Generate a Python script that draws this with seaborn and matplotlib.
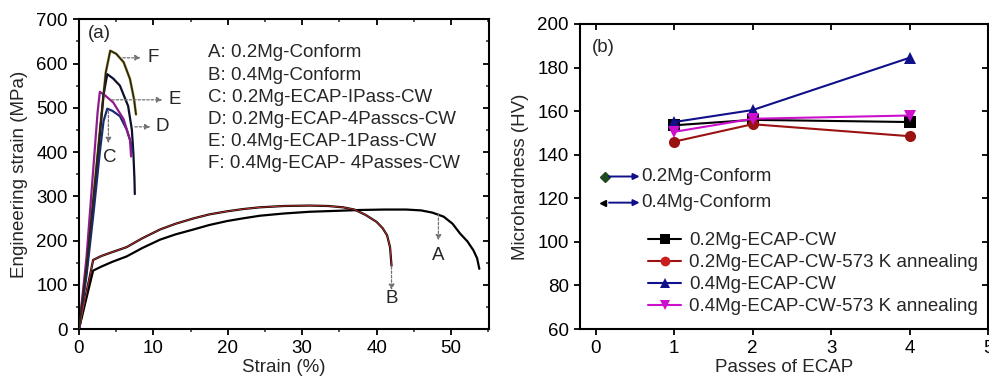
import numpy as np
import pandas as pd
import matplotlib
matplotlib.use("Agg")
import matplotlib.pyplot as plt
import seaborn as sns
from matplotlib.ticker import MultipleLocator

# ---------------- data: panel (a) tensile curves ----------------
strain_A = [0, 1.0, 1.9, 3, 4.5, 6.4, 8.5, 10.9, 13, 15.4, 17.5, 19.9, 22, 24.3, 27.5, 31,
            34.5, 37.8, 41, 44, 46, 47.5, 49, 50.2, 51.2, 52.2, 53, 53.5, 53.8]
stress_A = [0, 70, 132, 141, 152, 164, 183, 202, 214, 225, 235, 244, 250, 256, 261, 265,
            267, 269, 270, 270, 268, 263, 254, 238, 216, 198, 178, 160, 136]
strain_B = [0, 1.0, 1.9, 3, 4.5, 6.4, 8.5, 10.9, 13, 15.4, 17.5, 19.9, 22, 24.3, 27.5, 31,
            33.5, 35.5, 37, 38.5, 40, 40.8, 41.4, 41.8, 42.0]
stress_B = [0, 82, 156, 165, 174, 185, 205, 225, 238, 250, 259, 266, 271, 275, 278, 279,
            278, 275, 270, 258, 242, 228, 212, 185, 143]
strain_C = [0, 1, 2, 2.8, 3.3, 3.8, 4.5, 5.5, 6.4, 6.9, 7.2]
stress_C = [0, 120, 270, 400, 470, 498, 493, 481, 451, 425, 400]
strain_D = [0, 1, 2, 2.8, 3.3, 3.8, 4.6, 5.5, 6.6, 7.1, 7.3, 7.45, 7.5]
stress_D = [0, 130, 290, 440, 530, 576, 566, 550, 504, 451, 400, 340, 305]
strain_E = [0, 1, 2, 2.5, 2.8, 3.5, 4.6, 6.0, 6.85, 7.0]
stress_E = [0, 160, 380, 490, 536, 528, 512, 474, 428, 390]
strain_F = [0, 1, 2, 3, 3.6, 4.2, 5.0, 6.0, 6.85, 7.4, 7.66]
stress_F = [0, 140, 310, 480, 580, 629, 622, 603, 565, 519, 485]

legend_a = ["A: 0.2Mg-Conform", "B: 0.4Mg-Conform", "C: 0.2Mg-ECAP-IPass-CW",
            "D: 0.2Mg-ECAP-4Passcs-CW", "E: 0.4Mg-ECAP-1Pass-CW", "F: 0.4Mg-ECAP- 4Passes-CW"]

# ---------------- data: panel (b) microhardness ----------------
passes = [1, 2, 4]
hv_02_cw = [153.5, 156, 155]
hv_02_ann = [146, 154, 148.5]
hv_04_cw = [155, 160.5, 184.5]
hv_04_ann = [150.5, 156.5, 158]
series_b = ["0.2Mg-ECAP-CW", "0.2Mg-ECAP-CW-573 K annealing",
            "0.4Mg-ECAP-CW", "0.4Mg-ECAP-CW-573 K annealing"]
conform_labels = ["0.2Mg-Conform", "0.4Mg-Conform"]
conform_hv = [130, 118]

# ---------------- style ----------------
sns.set_style("ticks")
plt.rcParams['font.family'] = ['Liberation Sans', 'DejaVu Sans']
FS = 13.5
plt.rcParams['font.size'] = FS

fig = plt.figure(figsize=(9.89, 3.82), dpi=100)
W, H = 989, 382
def rect(l, t, r, b):
    return [l / W, (H - b) / H, (r - l) / W, (b - t) / H]

ax1 = fig.add_axes(rect(79, 19.3, 489, 329))
ax2 = fig.add_axes(rect(580, 24, 988, 329))

# ---------------- panel (a) ----------------
def draw(ax, x, y, color, lw=1.6, z=2):
    sns.lineplot(x=x, y=y, ax=ax, color=color, lw=lw, sort=False, estimator=None, zorder=z)

draw(ax1, strain_A, stress_A, "black")
draw(ax1, strain_B, stress_B, "black")
draw(ax1, strain_B, stress_B, "#c0302a", lw=0.7, z=3)
draw(ax1, strain_F, stress_F, "#c8b868", lw=2.0)
draw(ax1, strain_F, stress_F, "#2a2612", lw=1.3, z=3)
draw(ax1, strain_D, stress_D, "#0c1028")
draw(ax1, strain_C, stress_C, "#1a2a70")
draw(ax1, strain_E, stress_E, "#8e1c8e")

ax1.set_xlim(0, 55.1)
ax1.set_ylim(0, 700)
ax1.xaxis.set_major_locator(MultipleLocator(10))
ax1.xaxis.set_minor_locator(MultipleLocator(5))
ax1.yaxis.set_major_locator(MultipleLocator(100))
ax1.yaxis.set_minor_locator(MultipleLocator(50))
ax1.set_xlabel("Strain (%)", fontsize=FS, labelpad=1)
ax1.set_ylabel("Engineering strain (MPa)", fontsize=FS, labelpad=6)
ax1.text(1.2, 667, "(a)", fontsize=FS, va="center", ha="left")

for i, t in enumerate(legend_a):
    ax1.text(17.3, 624 - i * 50.2, t, fontsize=FS, va="center", ha="left")

ap = dict(arrowstyle="-|>", linestyle=(0, (2, 1.5)), color="0.45", lw=0.9,
          mutation_scale=8, shrinkA=0, shrinkB=0)
def arrow(ax, x0, y0, x1, y1):
    ax.annotate("", xy=(x1, y1), xytext=(x0, y0), arrowprops=ap)

arrow(ax1, 48.3, 261, 48.3, 200)
ax1.text(48.3, 167, "A", fontsize=FS, ha="center", va="center")
arrow(ax1, 42.0, 141, 42.0, 88)
ax1.text(42.0, 68, "B", fontsize=FS, ha="center", va="center")
arrow(ax1, 3.95, 493, 3.95, 420)
ax1.text(4.1, 387, "C", fontsize=FS, ha="center", va="center")
arrow(ax1, 7.5, 457, 9.6, 457)
ax1.text(10.3, 457, "D", fontsize=FS, ha="left", va="center")
arrow(ax1, 4.4, 518, 11.2, 518)
ax1.text(12.0, 518, "E", fontsize=FS, ha="left", va="center")
arrow(ax1, 5.9, 613, 8.3, 613)
ax1.text(9.2, 613, "F", fontsize=FS, ha="left", va="center")

# ---------------- panel (b) ----------------
df = pd.DataFrame({
    "passes": passes * 4,
    "hv": hv_02_cw + hv_02_ann + hv_04_cw + hv_04_ann,
    "series": sum([[s] * len(passes) for s in series_b], []),
})
pal = {series_b[0]: "black", series_b[1]: "#9b1212",
       series_b[2]: "#10108a", series_b[3]: "#cc10cc"}
mk = {series_b[0]: "s", series_b[1]: "o", series_b[2]: "^", series_b[3]: "v"}
sns.lineplot(data=df, x="passes", y="hv", hue="series", style="series",
             palette=pal, markers=mk, dashes=False, lw=1.5, markersize=8,
             markeredgewidth=0, ax=ax2)
for ln in ax2.get_lines():
    if ln.get_label() == series_b[1]:
        ln.set_markerfacecolor("#c81e1e")

ax2.set_xlim(-0.2, 5.0)
ax2.set_ylim(60, 200)
ax2.xaxis.set_major_locator(MultipleLocator(1))
ax2.yaxis.set_major_locator(MultipleLocator(20))
ax2.set_xlabel("Passes of ECAP", fontsize=FS, labelpad=1)
ax2.set_ylabel("Microhardness (HV)", fontsize=FS, labelpad=6)
ax2.text(-0.05, 189.4, "(b)", fontsize=FS, va="center", ha="left")

leg = ax2.legend(loc="upper left", bbox_to_anchor=(0.167, 0.318), frameon=False,
                 fontsize=FS, handlelength=1.75, handletextpad=0.42, labelspacing=0.26,
                 borderpad=0, borderaxespad=0)
for h in leg.legend_handles:
    h.set_markersize(7)

conf_marker = ["D", "<"]
conf_color = ["#1f4a1f", "black"]
conf_x = [0.115, 0.09]
for i, lab in enumerate(conform_labels):
    ax2.plot([conf_x[i]], [conform_hv[i]], marker=conf_marker[i], color=conf_color[i],
             markersize=5, ls="none")
    ax2.annotate("", xy=(0.56, conform_hv[i]), xytext=(0.17, conform_hv[i]),
                 arrowprops=dict(arrowstyle="-|>", color="#10108a", lw=1.4,
                                 mutation_scale=9, shrinkA=0, shrinkB=0))
    ax2.text(0.585, conform_hv[i], lab, fontsize=FS, va="center", ha="left")

# ---------------- ticks & spines ----------------
for ax in (ax1, ax2):
    for s in ax.spines.values():
        s.set_visible(True)
        s.set_linewidth(1.5)
        s.set_color("black")
    ax.tick_params(axis="both", which="major", direction="out", length=4, width=1.3,
                   labelsize=FS, colors="black", pad=4)
    ax.tick_params(axis="both", which="minor", direction="out", length=2.5, width=1.1)
    ax.tick_params(top=True, right=True, which="both")
for ax in (ax1, ax2):
    for t in ax.xaxis.get_major_ticks() + ax.xaxis.get_minor_ticks():
        t.tick2line.set_marker(3)
    for t in ax.yaxis.get_major_ticks() + ax.yaxis.get_minor_ticks():
        t.tick2line.set_marker(0)

fig.savefig("out.png", dpi=100)
